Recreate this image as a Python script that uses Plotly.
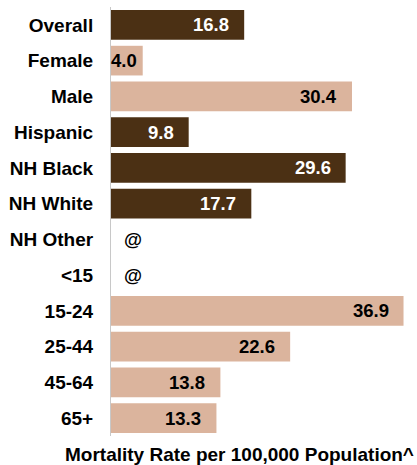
import plotly.graph_objects as go

categories = ["Overall", "Female", "Male", "Hispanic", "NH Black", "NH White",
              "NH Other", "<15", "15-24", "25-44", "45-64", "65+"]
values = [16.8, 4.0, 30.4, 9.8, 29.6, 17.7, None, None, 36.9, 22.6, 13.8, 13.3]
groups = ["overall", "sex", "sex", "race", "race", "race", "race",
          "age", "age", "age", "age", "age"]
suppressed_label = "@"
axis_title = "Mortality Rate per 100,000 Population^"

DARK = "#4B3014"
LIGHT = "#DBB49D"
group_color = {"overall": DARK, "race": DARK, "sex": LIGHT, "age": LIGHT}

FONT = "Arial, 'Liberation Sans', sans-serif"

colors = [group_color[g] for g in groups]
bar_vals = [v if v is not None else 0 for v in values]

fig = go.Figure()
fig.add_trace(go.Bar(
    y=categories, x=bar_vals, orientation="h",
    marker=dict(color=colors, line=dict(width=0)),
    width=0.83, hoverinfo="skip",
))

for cat, v, col in zip(categories, values, colors):
    if v is None:
        fig.add_annotation(x=0, y=cat, xref="x", yref="y", text=suppressed_label,
                           showarrow=False, xanchor="left", xshift=11,
                           font=dict(family=FONT, size=18.5, color="black", weight="bold"))
    else:
        txtcol = "white" if col == DARK else "black"
        shift = -4 if v < 6 else -13
        fig.add_annotation(x=v, y=cat, xref="x", yref="y", text=f"{v:.1f}",
                           showarrow=False, xanchor="right", xshift=shift,
                           font=dict(family=FONT, size=18.5, color=txtcol, weight="bold"))

fig.add_annotation(x=1.0, y=0, xref="paper", yref="paper", text=axis_title,
                   showarrow=False, xanchor="right", yanchor="middle", yshift=-18, xshift=-1,
                   font=dict(family=FONT, size=19, color="black", weight="bold"))

fig.update_layout(
    width=417, height=465,
    margin=dict(l=111, r=0, t=7, b=29),
    plot_bgcolor="white", paper_bgcolor="white",
    showlegend=False,
)
fig.update_xaxes(range=[0, 38.6], showticklabels=False, showgrid=False,
                 zeroline=False, showline=False, ticks="", fixedrange=True)
fig.update_yaxes(categoryorder="array", categoryarray=categories,
                 autorange="reversed", showgrid=False, zeroline=False,
                 showline=True, linecolor="#C8C8C8", linewidth=1, ticks="",
                 ticklabelstandoff=13, fixedrange=True,
                 tickfont=dict(family=FONT, size=19, color="black", weight="bold"))

fig.write_html("out.html", config={"displayModeBar": False},
               post_script="document.body.style.margin='0';")
